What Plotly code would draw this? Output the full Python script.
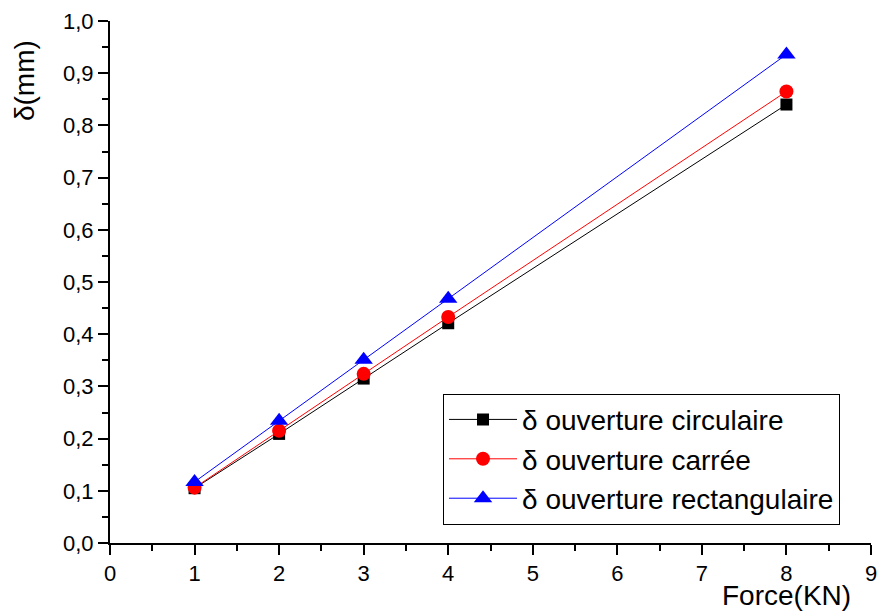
import plotly.graph_objects as go

force = [1, 2, 3, 4, 8]
circ = [0.105, 0.209, 0.315, 0.421, 0.840]
carre = [0.106, 0.215, 0.324, 0.433, 0.865]
rect = [0.117, 0.234, 0.351, 0.468, 0.936]

names = ["δ ouverture circulaire", "δ ouverture carrée", "δ ouverture rectangulaire"]
FONT = "Liberation Sans, Arial, sans-serif"

fig = go.Figure()
fig.add_trace(go.Scatter(x=force, y=circ, name=names[0], mode="lines+markers",
                         line=dict(color="black", width=1),
                         marker=dict(symbol="square", size=12, color="black")))
fig.add_trace(go.Scatter(x=force, y=carre, name=names[1], mode="lines+markers",
                         line=dict(color="red", width=1),
                         marker=dict(symbol="circle", size=14, color="red")))
fig.add_trace(go.Scatter(x=force, y=rect, name=names[2], mode="lines+markers",
                         line=dict(color="blue", width=1),
                         marker=dict(symbol="triangle-up", size=16, color="blue")))

fig.update_layout(
    width=882, height=612,
    margin=dict(l=110, r=11, t=21, b=69, autoexpand=False),
    plot_bgcolor="white", paper_bgcolor="white",
    separators=", ",
    font=dict(family=FONT, size=22, color="black"),
    showlegend=True,
    legend=dict(x=0.4376, y=0.286, xanchor="left", yanchor="top",
                bgcolor="white", bordercolor="black", borderwidth=1,
                font=dict(size=28, family=FONT), itemwidth=68,
                tracegroupgap=0),
    xaxis=dict(range=[0, 9], dtick=1, tick0=0, showline=True, linecolor="black",
               linewidth=2, ticks="outside", ticklen=10, tickwidth=2, tickcolor="black",
               showgrid=False, zeroline=False, tickfont=dict(size=22),
               minor=dict(ticks="outside", ticklen=6, tickwidth=2, dtick=0.5,
                          tickcolor="black", showgrid=False)),
    yaxis=dict(range=[0, 1.0], dtick=0.1, tick0=0, tickformat=".1f", showline=True,
               linecolor="black", linewidth=2, ticks="outside", ticklen=10, tickwidth=2,
               tickcolor="black", showgrid=False, zeroline=False, tickfont=dict(size=22),
               minor=dict(ticks="outside", ticklen=6, tickwidth=2, dtick=0.05,
                          tickcolor="black", showgrid=False)),
    annotations=[
        dict(text="Force(KN)", xref="paper", yref="paper", x=0.889, y=-0.101,
             xanchor="center", yanchor="middle", showarrow=False, borderpad=0,
             font=dict(size=28, family=FONT)),
        dict(text="δ(mm)", xref="paper", yref="paper", x=-0.113, y=0.885,
             xanchor="center", yanchor="middle", showarrow=False, textangle=-90,
             font=dict(size=28, family=FONT)),
    ],
)

fig.write_html("out.html", config={"displayModeBar": False},
               post_script="document.body.style.margin='0';")
